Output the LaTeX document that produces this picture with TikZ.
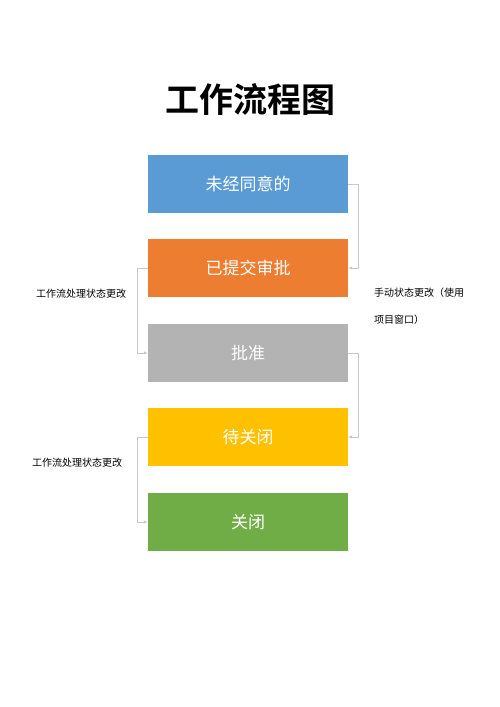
\documentclass[tikz,border=0pt]{standalone}
\usepackage{fontspec}
\newfontfamily\cjk{Noto Sans CJK SC}
\newfontfamily\cjkb{Noto Sans CJK SC Bold}
\usetikzlibrary{arrows.meta}
\definecolor{cblue}{HTML}{5B9BD5}
\definecolor{corange}{HTML}{ED7D31}
\definecolor{cgray}{HTML}{B3B3B3}
\definecolor{cyellow}{HTML}{FFC000}
\definecolor{cgreen}{HTML}{70AD47}
\definecolor{cline}{HTML}{C8C8C8}
\tikzset{
  x=1pt,y=-1pt,
  stbox/.style={minimum width=200pt,minimum height=58pt,inner sep=0pt,text=white,font=\cjk\fontsize{17pt}{20pt}\selectfont},
  conn/.style={draw=cline,line width=0.7pt,-{Latex[length=4pt,width=3.5pt]}},
  lbl/.style={font=\cjk\fontsize{10pt}{12pt}\selectfont,text=black,inner sep=0pt}
}
\begin{document}
\begin{tikzpicture}
\useasboundingbox (0,0) rectangle (500,707);
\node[font=\cjkb\fontsize{34pt}{40pt}\selectfont] (title) at (250,100) {工作流程图};
\node[stbox,fill=cblue] (s1) at (248,184) {未经同意的};
\node[stbox,fill=corange] (s2) at (248,268) {已提交审批};
\node[stbox,fill=cgray] (s3) at (248,353) {批准};
\node[stbox,fill=cyellow] (s4) at (248,437) {待关闭};
\node[stbox,fill=cgreen] (s5) at (248,522) {关闭};
\draw[conn] (s1.east) -- ++(10,0) |- (s2.east);
\draw[conn] (s2.west) -- ++(-10,0) |- (s3.west);
\draw[conn] (s3.east) -- ++(10,0) |- (s4.east);
\draw[conn] (s4.west) -- ++(-10,0) |- (s5.west);
\node[lbl,anchor=west] (l1) at (36,294) {工作流处理状态更改};
\node[lbl,anchor=west] (l2) at (32,463) {工作流处理状态更改};
\node[lbl,anchor=west] (r1) at (374,293) {手动状态更改（使用};
\node[lbl,anchor=west] (r2) at (374,320) {项目窗口）};
\end{tikzpicture}
\end{document}
